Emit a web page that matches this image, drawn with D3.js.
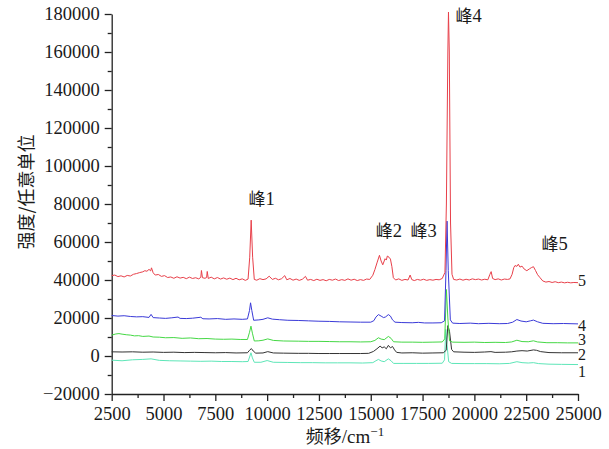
<!DOCTYPE html>
<html>
<head>
<meta charset="utf-8">
<script src="https://cdn.jsdelivr.net/npm/d3@7"></script>
<style>
  body { margin: 0; background: #fff; }
  svg { display: block; }
  .axis path, .axis line { stroke: #222; stroke-width: 1.3; }
  .axis text { font-family: "Liberation Serif", "Times New Roman", serif; font-size: 18.5px; fill: #1a1a1a; }
  .lbl { font-family: "Liberation Serif", serif; font-size: 18.5px; fill: #1a1a1a; }
  .cjk { font-family: "Noto Sans CJK SC", "Noto Sans CJK JP", sans-serif; }
</style>
</head>
<body>
<div id="chart"></div>
<script>
// spectra: [shift cm-1, intensity]
var s1 = [[2500,-2200],[3000,-2500],[3500,-2000],[4000,-1800],[4400,-1500],[4800,-2300],[5300,-2500],[5800,-2600],[6300,-2700],[6800,-2800],[7300,-2700],[7800,-2900],[8300,-2900],[8800,-3000],[9080,-2900],[9170,0],[9220,1700],[9290,-1000],[9380,-3300],[9700,-3300],[10000,-2400],[10300,-3300],[11000,-3400],[11600,-3500],[12200,-3500],[12800,-3600],[13400,-3600],[14000,-3600],[14600,-3700],[15100,-3500],[15250,-2500],[15370,-1800],[15500,-2600],[15650,-3000],[15850,-1500],[15980,-2500],[16100,-3900],[16600,-3900],[17200,-3900],[17800,-3900],[18450,-3800],[18560,-2000],[18620,14000],[18680,6000],[18760,-3000],[18900,-3900],[19500,-4000],[20000,-4000],[20600,-4000],[21200,-4100],[21700,-3900],[22050,-3000],[22300,-3500],[22600,-3700],[22850,-3500],[23100,-4000],[23600,-4300],[24200,-4400],[25000,-4500]];

var s2 = [[2500,2200],[3000,2100],[3500,2200],[4000,2000],[4500,2100],[5000,1900],[5500,2000],[6000,1800],[6500,1900],[7000,1800],[7500,1700],[8000,1800],[8500,1600],[9050,1700],[9150,3000],[9240,3900],[9330,2600],[9450,1500],[9800,1600],[10030,2300],[10300,1600],[10800,1500],[11500,1400],[12000,1400],[12500,1300],[13000,1300],[13500,1300],[14000,1300],[14500,1300],[14900,1400],[15130,2400],[15300,3800],[15450,5200],[15550,4300],[15650,4800],[15750,3800],[15850,5600],[15950,4300],[16050,5000],[16150,3200],[16250,1900],[16500,1600],[17000,1700],[17500,1500],[18000,1600],[18500,1700],[18640,3000],[18720,16000],[18800,13000],[18900,3500],[19000,2200],[19500,2000],[20000,1900],[20500,2100],[20800,2300],[21000,1900],[21500,2000],[21800,2200],[22050,2600],[22300,2800],[22550,2600],[22850,3200],[23000,3000],[23200,2300],[23600,1800],[24200,1700],[25000,1700]];

var s3 = [[2500,11000],[2700,11600],[2850,11800],[3000,11500],[3200,11200],[3400,11000],[3600,10600],[3800,10700],[4000,10300],[4300,10500],[4500,10000],[4800,9900],[5100,9600],[5500,9700],[5900,9300],[6300,9500],[6700,9100],[7100,9200],[7500,8900],[7900,8800],[8300,8900],[8700,8700],[9050,8700],[9150,12500],[9220,15700],[9290,12000],[9380,7900],[9600,8000],[9800,8300],[10030,9000],[10300,8200],[10800,7900],[11500,7800],[12000,7700],[12500,7700],[13000,7600],[13500,7500],[14000,7500],[14500,7400],[15000,7500],[15200,8200],[15370,9600],[15500,8900],[15650,8600],[15850,10300],[15980,9300],[16100,7500],[16500,7300],[17000,7300],[17500,7200],[18000,7300],[18450,7400],[18570,9000],[18650,35000],[18720,20000],[18800,8000],[18950,7300],[19500,7200],[20000,7300],[20500,7100],[21000,7200],[21500,7100],[21800,7400],[22050,8300],[22300,7600],[22600,7500],[22850,8000],[23050,7400],[23500,7000],[24000,7000],[24500,6900],[25000,6900]];

var s4 = [[2500,21300],[2800,21000],[3100,21200],[3400,20800],[3700,20600],[4000,20700],[4300,20300],[4400,21900],[4500,20200],[4800,20000],[5100,19800],[5400,20100],[5700,20500],[5800,19800],[6100,19700],[6400,19900],[6800,20400],[6900,19600],[7200,19500],[7600,19700],[8000,19300],[8400,19500],[8800,19300],[9050,19500],[9150,24000],[9200,28000],[9260,24000],[9350,18800],[9600,19000],[9800,19300],[10030,20100],[10250,19400],[10600,19100],[11000,18800],[11500,18700],[12000,18500],[12500,18300],[13000,18200],[13500,18000],[14000,17900],[14500,17800],[15000,17800],[15150,18600],[15250,20500],[15370,21800],[15500,21000],[15620,20200],[15720,20600],[15850,21800],[15950,21000],[16050,19000],[16170,17800],[16500,17600],[17000,17500],[17300,17700],[17600,17400],[18000,17400],[18400,17500],[18560,18500],[18630,45000],[18680,71000],[18740,45000],[18840,19000],[18950,17300],[19300,17100],[19800,17300],[20200,17000],[20700,17200],[21200,17000],[21600,17100],[21850,17800],[22050,19200],[22250,18400],[22500,18000],[22700,18500],[22850,18900],[23050,18000],[23300,17200],[23800,17000],[24300,17100],[25000,16900]];

var s5 = [[2500,42300],[2650,42600],[2800,41800],[2950,42200],[3100,41600],[3250,42400],[3400,42100],[3550,43000],[3700,43400],[3850,43900],[4000,44300],[4100,44900],[4200,44600],[4300,45600],[4380,44800],[4420,46400],[4500,43800],[4600,42600],[4750,42900],[4900,41900],[5050,42300],[5200,41300],[5350,41600],[5500,40900],[5650,41700],[5800,41000],[5950,41400],[6100,40700],[6250,41500],[6400,40800],[6550,41200],[6700,40600],[6800,41400],[6830,45000],[6880,41200],[7000,40900],[7080,41300],[7110,44500],[7160,40800],[7300,41500],[7450,40600],[7600,41300],[7750,40500],[7900,41100],[8050,40400],[8200,41000],[8350,40200],[8500,40900],[8650,40100],[8800,40600],[8950,39800],[9080,40500],[9160,52000],[9230,71500],[9300,52000],[9380,40300],[9500,39900],[9650,40700],[9800,40200],[9950,40600],[10100,42000],[10250,40300],[10400,40900],[10550,40100],[10700,40700],[10850,42300],[10950,40100],[11100,40800],[11250,39900],[11400,40500],[11550,39800],[11700,40400],[11850,41900],[11950,39900],[12100,40300],[12250,39700],[12400,40400],[12550,39800],[12700,40200],[12850,39600],[13000,40300],[13150,39900],[13300,40500],[13450,39700],[13600,40200],[13750,39800],[13900,40600],[14050,39900],[14200,40400],[14350,39700],[14500,40200],[14650,39800],[14800,40500],[14950,40300],[15100,42500],[15200,45500],[15300,49000],[15420,53000],[15500,50000],[15580,48000],[15690,51200],[15750,50500],[15800,52600],[15880,52000],[15950,51000],[16020,47000],[16090,41200],[16200,40000],[16350,40600],[16500,39800],[16650,40300],[16800,40000],[16900,42600],[16980,40200],[17100,39700],[17250,40300],[17400,39900],[17550,40400],[17700,39800],[17850,40200],[18000,39900],[18150,40300],[18300,40100],[18450,40800],[18580,44000],[18650,80000],[18720,160000],[18750,181000],[18790,160000],[18850,70000],[18920,43000],[19000,40300],[19150,40000],[19300,40500],[19450,39900],[19600,40400],[19750,40000],[19900,40600],[20050,40200],[20200,40500],[20350,40000],[20500,40400],[20650,40100],[20750,43000],[20810,44400],[20880,40800],[21000,40200],[21150,40600],[21300,40000],[21450,40500],[21600,40300],[21720,40600],[21820,43000],[21900,46500],[21960,47600],[22050,47200],[22120,48300],[22200,46800],[22300,47300],[22400,45800],[22530,44900],[22650,45800],[22750,46500],[22850,47000],[22950,45000],[23050,42800],[23170,41200],[23300,39500],[23450,38900],[23600,39200],[23750,38700],[23900,39100],[24050,38600],[24200,38900],[24350,38500],[24500,38800],[24650,38500],[24800,38700],[25000,38600]];

var seriesNames = ['1', '2', '3', '4', '5'];
var seriesColors = ['#5ee6b8', '#333333', '#45d845', '#3a3ad8', '#e8404a'];
var seriesData = [s1, s2, s3, s4, s5];
var seriesLabelY = [371, 354, 339.5, 325, 280.7];

var peakNames = ['1', '2', '3', '4', '5'];
var peakPos = [[9730, 205], [15880, 237], [17550, 237], [19720, 22], [23870, 250]];

var xTicks = d3.range(2500, 25001, 2500);
var yTicks = d3.range(-20000, 180001, 20000);

var width = 609, height = 449;

var x = d3.scaleLinear().domain([2500, 25000]).range([111.7, 578]);
var y = d3.scaleLinear().domain([-20000, 180000]).range([394, 14]);

var svg = d3.select('#chart').append('svg')
  .attr('width', width)
  .attr('height', height);

//minor ticks
svg.append('g')
  .attr('class', 'axis')
  .attr('transform', 'translate(0,394)')
  .call(d3.axisBottom(x).tickValues(xTicks.slice(0, -1).map(function(d) { return d + 1250; }))
    .tickSize(4).tickSizeOuter(0).tickFormat(''))
  .select('.domain').remove();

svg.append('g')
  .attr('class', 'axis')
  .attr('transform', 'translate(111.7,0)')
  .call(d3.axisLeft(y).tickValues(yTicks.slice(0, -1).map(function(d) { return d + 10000; }))
    .tickSize(4).tickSizeOuter(0).tickFormat(''))
  .select('.domain').remove();

//main axes
svg.append('g')
  .attr('class', 'axis')
  .attr('transform', 'translate(0,394)')
  .call(d3.axisBottom(x).tickValues(xTicks).tickSize(7).tickSizeOuter(0).tickPadding(6)
    .tickFormat(d3.format('d')));

svg.append('g')
  .attr('class', 'axis')
  .attr('transform', 'translate(111.7,0)')
  .call(d3.axisLeft(y).tickValues(yTicks).tickSize(7).tickSizeOuter(0).tickPadding(5)
    .tickFormat(d3.format('d')));

var line = d3.line()
  .x(function(d) { return x(d[0]); })
  .y(function(d) { return y(d[1]); });

svg.append('g').selectAll('path')
  .data(seriesData)
  .enter().append('path')
  .attr('d', line)
  .attr('fill', 'none')
  .attr('stroke', function(d, i) { return seriesColors[i]; })
  .attr('stroke-width', 1)
  .attr('stroke-linejoin', 'round');

//series numbers at right
svg.append('g').selectAll('text')
  .data(seriesNames)
  .enter().append('text')
  .attr('class', 'lbl')
  .attr('x', 578)
  .attr('y', function(d, i) { return seriesLabelY[i]; })
  .attr('dy', '0.35em')
  .style('font-size', '16px')
  .text(function(d) { return d; });

//peak labels
var peaks = svg.append('g').selectAll('text')
  .data(peakNames)
  .enter().append('text')
  .attr('class', 'lbl')
  .attr('x', function(d, i) { return x(peakPos[i][0]); })
  .attr('y', function(d, i) { return peakPos[i][1]; })
  .attr('text-anchor', 'middle');
peaks.append('tspan').attr('class', 'cjk').style('font-size', '17px').text('峰');
peaks.append('tspan').text(function(d) { return d; });

//axis titles
svg.append('text')
  .attr('class', 'lbl cjk')
  .attr('transform', 'translate(33,192) rotate(-90)')
  .attr('text-anchor', 'middle')
  .style('font-size', '18px')
  .text('强度/任意单位');

var xt = svg.append('text')
  .attr('class', 'lbl')
  .attr('x', 345)
  .attr('y', 443)
  .attr('text-anchor', 'middle')
  .style('font-size', '19px');
xt.append('tspan').attr('class', 'cjk').style('font-size', '18px').text('频移');
xt.append('tspan').text('/cm');
xt.append('tspan').attr('dy', -7).style('font-size', '13px').text('−1');
</script>
</body>
</html>
